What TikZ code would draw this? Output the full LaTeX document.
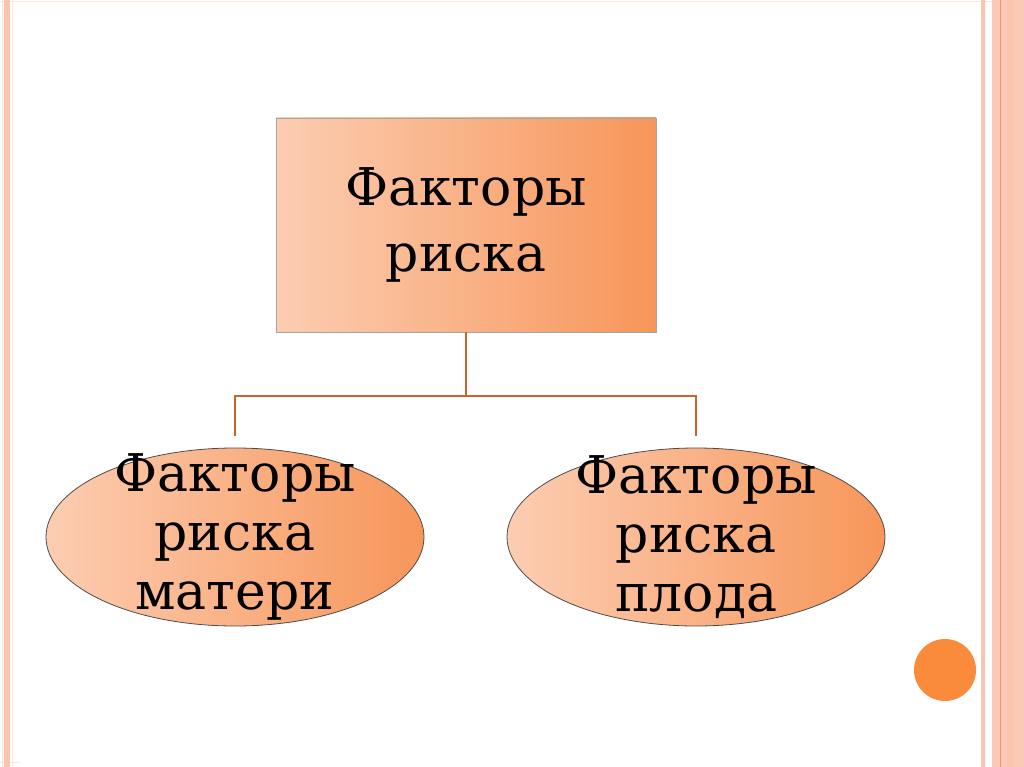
\documentclass[tikz,border=0pt]{standalone}
\usepackage{fontspec}
\setmainfont{DejaVu Serif}
\usetikzlibrary{shapes.geometric}
\definecolor{stripe}{HTML}{FBC4AE}
\definecolor{stripepale}{HTML}{FDE6DC}
\definecolor{stripeline}{HTML}{EE9A68}
\definecolor{boxlight}{HTML}{FCCDB2}
\definecolor{boxdark}{HTML}{F7965A}
\definecolor{linkcol}{HTML}{C8642C}
\definecolor{dotcol}{HTML}{F98B3A}
\tikzset{
  topbox/.style={rectangle, draw=gray!70, line width=0.8pt, minimum width=380pt, minimum height=214pt,
    left color=boxlight, right color=boxdark, align=center, font=\fontsize{52}{66}\selectfont},
  oval/.style={ellipse, draw=black!70, line width=0.8pt, minimum width=378pt, minimum height=178pt,
    inner sep=0pt, left color=boxlight, right color=boxdark},
  ovaltext/.style={align=center, font=\fontsize{52}{59}\selectfont},
  link/.style={draw=linkcol, line width=2pt}
}
\begin{document}
\begin{tikzpicture}[x=1pt,y=-1pt]
\useasboundingbox (0,0) rectangle (1024,767);
\fill[white] (0,0) rectangle (1024,767);
% frame
\draw[stripepale, line width=0.8pt] (0,1) -- (1024,1);
\draw[stripepale, line width=0.8pt] (0,762) -- (20,762);
\fill[stripepale] (1.5,0) rectangle (3,767);
\fill[stripe] (4,0) rectangle (10,767);
\fill[stripepale] (12,0) rectangle (13,767);
\fill[stripe] (981,0) rectangle (985,767);
\fill[stripe!90!white] (992,0) rectangle (1024,767);
\fill[stripe] (1007,0) rectangle (1013,767);
\draw[stripeline, line width=1pt] (1000,0) -- (1000,767);
% nodes
\node[topbox] (top) at (466,225) {Факторы\\риска};
\node[oval] (mom) at (235,537) {};
\node[oval] (fet) at (696,537) {};
\node[ovaltext] (momt) at (mom.center) {Факторы\\риска\\матери};
\node[ovaltext] (fett) at (fet.center) {Факторы\\риска\\плода};
\coordinate (j) at (466,396);
\coordinate (mj) at ([yshift=12pt]mom.north);
\coordinate (fj) at ([yshift=12pt]fet.north);
\draw[link] (top.south) -- (j);
\draw[link] (mj) |- (j) -| (fj);
\fill[dotcol] (945,670) circle (31);
\end{tikzpicture}
\end{document}
